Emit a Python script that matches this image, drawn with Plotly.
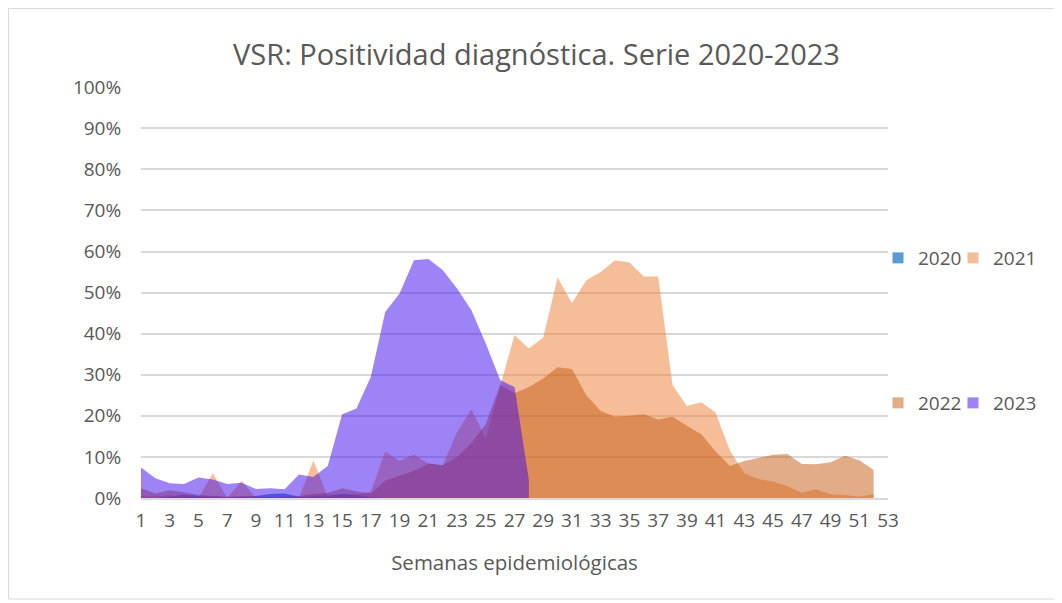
import plotly.graph_objects as go

weeks_all = list(range(1, 54))
x_tick_labels = [str(w) for w in range(1, 54, 2)]

# Percent positivity by epidemiological week
pos_2020 = [0.0, 0.0, 0.3, 0.8, 0.5, 0.3, 0.2, 0.3, 0.5, 1.0, 1.1, 0.3, 0.5, 0.6, 1.0, 0.8, 0.2,
            0.0, 0.0, 0.0, 0.0, 0.0, 0.0, 0.0, 0.0, 0.0, 0.0, 0.0, 0.0, 0.0, 0.0, 0.0, 0.0, 0.0,
            0.0, 0.0, 0.0, 0.0, 0.0, 0.0, 0.0, 0.0, 0.0, 0.0, 0.0, 0.0, 0.0, 0.0, 0.0, 0.0, 0.0,
            0.0, 0.0]
pos_2021 = [0.5, 0.4, 0.6, 0.5, 0.0, 6.0, 0.0, 4.2, 0.0, 0.0, 0.0, 0.0, 9.1, 0.3, 0.5, 0.8, 1.5,
            11.3, 9.0, 10.6, 8.4, 8.0, 16.0, 21.6, 14.5, 27.0, 39.7, 36.4, 39.1, 53.7, 47.4, 53.0,
            55.0, 57.9, 57.3, 53.9, 53.9, 27.5, 22.4, 23.3, 20.8, 11.5, 6.0, 4.6, 4.0, 2.9, 1.3,
            2.1, 0.9, 0.7, 0.3, 1.0]
pos_2022 = [2.4, 1.1, 1.9, 1.4, 0.7, 0.5, 0.3, 0.5, 0.3, 0.2, 0.3, 0.5, 1.0, 1.2, 2.4, 1.6, 1.1,
            4.2, 5.4, 6.6, 8.4, 8.0, 10.0, 13.3, 18.0, 27.5, 25.5, 27.0, 29.1, 31.8, 31.4, 25.0,
            21.2, 19.8, 20.0, 20.4, 19.1, 19.8, 17.6, 15.5, 11.3, 7.8, 9.0, 9.7, 10.5, 10.7, 8.3,
            8.2, 8.7, 10.3, 9.2, 6.8]
pos_2023 = [7.4, 4.8, 3.6, 3.4, 5.0, 4.5, 3.4, 3.7, 2.2, 2.4, 2.1, 5.7, 5.1, 7.8, 20.4, 21.8,
            29.5, 45.3, 49.8, 57.9, 58.2, 55.5, 51.0, 45.7, 37.6, 28.7, 27.0, 4.4]

series = [
    ("2020", pos_2020, "rgb(91,155,213)"),
    ("2021", pos_2021, "rgba(237,125,49,0.5)"),
    ("2022", pos_2022, "rgba(197,90,17,0.5)"),
    ("2023", pos_2023, "rgba(59,7,235,0.5)"),
]

fig = go.Figure()
for name, vals, col in series:
    fig.add_trace(go.Scatter(
        x=weeks_all[:len(vals)], y=[v / 100 for v in vals], mode="lines",
        line=dict(width=0, color=col), fill="tozeroy", fillcolor=col,
        name=name, showlegend=False, hoverinfo="x+y",
    ))

legend_ids = ["legend", "legend2", "legend3", "legend4"]
for (name, vals, col), lid in zip(series, legend_ids):
    fig.add_trace(go.Scatter(
        x=[None], y=[None], mode="markers",
        marker=dict(symbol="square", size=11, color=col),
        name=name, legend=lid, showlegend=True,
    ))

GRAY = "#595959"
FONT = "Open Sans, sans-serif"

# page offset of the plot div (browser body margin)
OFF = 8
FW, FH = 1062 - OFF, 603 - OFF
# plot area in page pixels: x 141..888, y 87..498
L, R, T, B = 141 - OFF, 888 - OFF, 87 - OFF, 498 - OFF
W, H = R - L, B - T


def px(x):
    return (x - OFF - L) / W


def py(y):
    return (B - (y - OFF)) / H


def leg(xp, yp):
    return dict(orientation="h", x=px(xp), y=py(yp), xanchor="left", yanchor="middle",
                font=dict(size=19, color=GRAY, family=FONT), bgcolor="rgba(0,0,0,0)",
                itemwidth=30)


fig.update_layout(
    width=FW, height=FH,
    margin=dict(l=L, r=FW - R, t=T, b=FH - B),
    paper_bgcolor="white", plot_bgcolor="white",
    font=dict(family=FONT, color=GRAY, size=16),
    title=dict(text="VSR: Positividad diagnóstica. Serie 2020-2023",
               x=(536.5 - OFF) / FW, xanchor="center", xref="container",
               y=1 - (55 - OFF) / FH, yanchor="middle",
               font=dict(size=29, color=GRAY, family=FONT)),
    xaxis=dict(range=[1, 53], tickmode="array", tickvals=list(range(1, 54, 2)),
               ticktext=x_tick_labels, showgrid=False, showline=True,
               linecolor="#D9D9D9", linewidth=1.5, ticks="outside", ticklen=4,
               tickcolor="rgba(0,0,0,0)", tickfont=dict(size=19, color=GRAY),
               title=dict(text="Semanas epidemiológicas", font=dict(size=20.5, color=GRAY),
                          standoff=24),
               zeroline=False, fixedrange=True),
    yaxis=dict(range=[0, 1.0005], dtick=0.1, tickformat=".0%", showgrid=True,
               gridcolor="#D9D9D9", gridwidth=1.5, zeroline=False, ticks="outside",
               ticklen=15, tickcolor="rgba(0,0,0,0)", tickfont=dict(size=19, color=GRAY),
               fixedrange=True),
    legend=leg(878, 258),
    legend2=leg(953, 258),
    legend3=leg(878, 403),
    legend4=leg(953, 403),
    shapes=[dict(type="rect", xref="paper", yref="paper",
                 x0=px(8.5), x1=px(1055), y0=py(599), y1=py(8.5),
                 line=dict(color="#D9D9D9", width=1), fillcolor="rgba(0,0,0,0)", layer="below")],
)

fig.write_html("out.html")
